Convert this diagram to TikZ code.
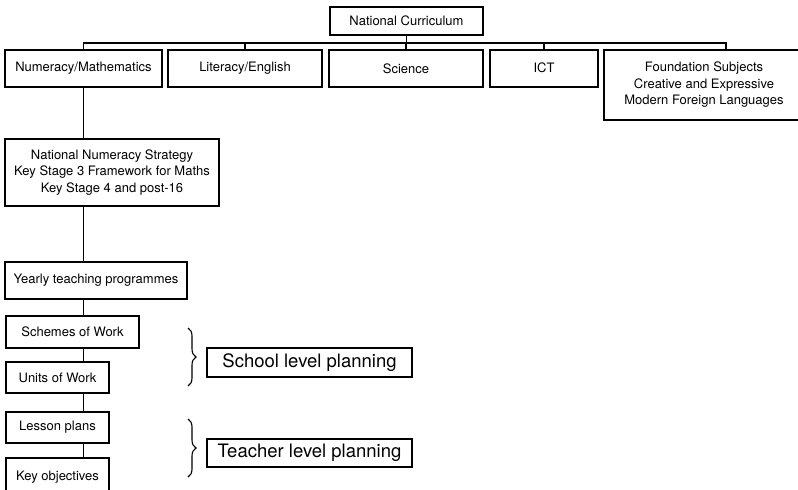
\documentclass[tikz,border=0pt]{standalone}
\usepackage{fontspec}
\setmainfont{TeX Gyre Heros}
\usetikzlibrary{decorations.pathreplacing}
\begin{document}
\begin{tikzpicture}[x=1pt,y=-1pt,
  box/.style={draw,line width=1.2pt,inner sep=0pt,font=\fontsize{13}{16.5}\selectfont,align=center},
  bigbox/.style={draw,line width=1.2pt,inner sep=0pt,font=\fontsize{18.5}{22}\selectfont},
  link/.style={line width=1.2pt},
  brc/.style={decorate,decoration={brace,amplitude=8pt},line width=1.1pt}]
\clip (0,0) rectangle (798,490);
\fill[white] (0,0) rectangle (798,490);
% top row
\node[box,minimum width=153,minimum height=28] (nc) at (406.5,21) {National Curriculum};
\node[box,minimum width=157,minimum height=37] (num) at (83.5,68.5) {Numeracy/Mathematics};
\node[box,minimum width=154,minimum height=37] (lit) at (245,68.5) {Literacy/English};
\node[box,minimum width=154,minimum height=37] (sci) at (406,68.5) {Science};
\node[box,minimum width=108,minimum height=37] (ict) at (544,68.5) {\raisebox{2pt}{ICT}};
\node[box,minimum width=200,minimum height=70] (fnd) at (704,85) {Foundation Subjects\\Creative and Expressive\\Modern Foreign Languages};
% column
\node[box,minimum width=214,minimum height=67] (nns) at (112,172.5) {National Numeracy Strategy\\Key Stage 3 Framework for Maths\\Key Stage 4 and post-16};
\node[box,minimum width=182,minimum height=37] (yr) at (96,280.5) {Yearly teaching programmes};
\node[box,minimum width=133,minimum height=32] (sch) at (72.5,332) {Schemes of Work};
\node[box,minimum width=103,minimum height=31] (uow) at (57.5,377.5) {Units of Work};
\node[box,minimum width=103,minimum height=31] (les) at (57.5,427.5) {Lesson plans};
\node[box,minimum width=103,minimum height=38] (key) at (57.5,477) {Key objectives};
% planning labels
\node[bigbox,minimum width=205,minimum height=29] (slp) at (309.5,362.5) {School level planning};
\node[bigbox,minimum width=205,minimum height=28] (tlp) at (309.5,453) {Teacher level planning};
% bus
\coordinate (bus) at (406,43);
\draw[link] (nc.south) -- (nc.south |- bus);
\draw[link] (num.north) -- (num.north |- bus) -- (726,43) -- (726,50);
\draw[link] (lit.north) -- (lit.north |- bus);
\draw[link] (sci.north) -- (sci.north |- bus);
\draw[link] (ict.north) -- (ict.north |- bus);
% vertical chain
\draw[link] (num.south) -- (num.south |- nns.north);
\draw[link] (num.south |- nns.south) -- (num.south |- yr.north);
\draw[link] (num.south |- yr.south) -- (num.south |- sch.north);
\draw[link] (num.south |- sch.south) -- (num.south |- uow.north);
\draw[link] (num.south |- uow.south) -- (num.south |- les.north);
\draw[link] (num.south |- les.south) -- (num.south |- key.north);
% braces
\coordinate (b1t) at (188,328);
\coordinate (b1b) at (188,386);
\coordinate (b2t) at (188,419);
\coordinate (b2b) at (188,477);
\draw[brc] (b1t) -- (b1b);
\draw[brc] (b2t) -- (b2b);
\end{tikzpicture}
\end{document}
